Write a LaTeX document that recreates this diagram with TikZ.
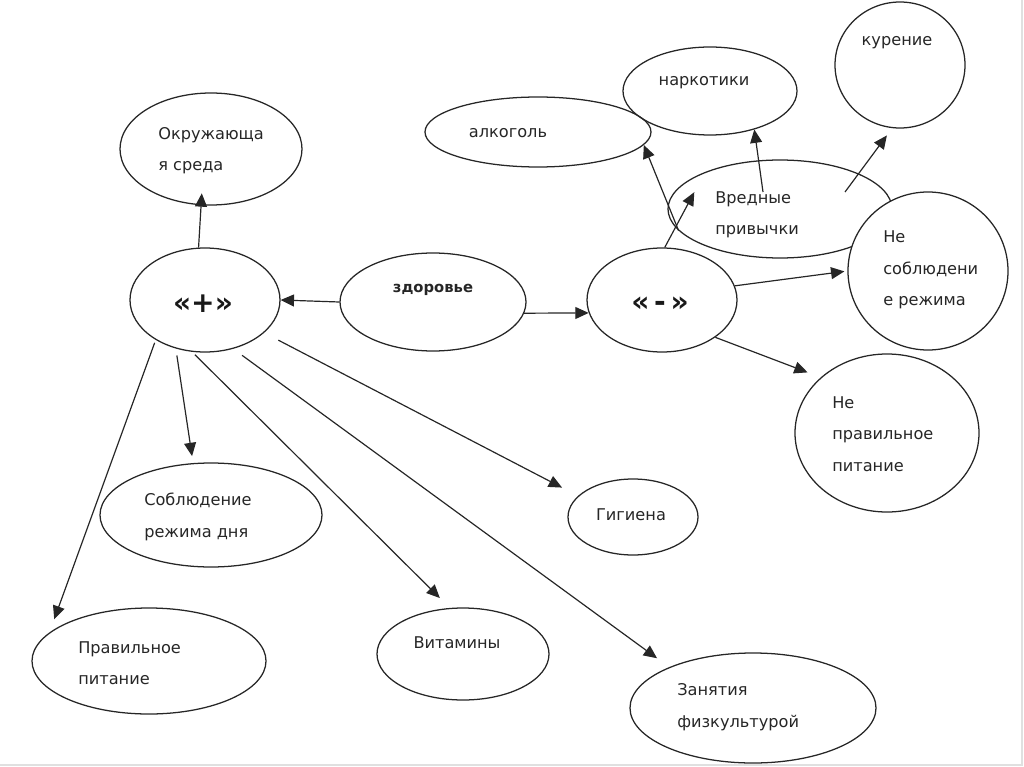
\documentclass[tikz,border=0pt]{standalone}
\usepackage{fontspec}
\setmainfont{DejaVu Sans}
\usetikzlibrary{shapes.geometric,arrows.meta}
\newcommand\pxu{0.025cm}
\begin{document}
\begin{tikzpicture}[x=0.025cm,y=-0.025cm,
  ell/.style 2 args={ellipse, draw=black!85, line width=0.9pt, inner sep=0pt, minimum width={2*#1*\pxu}, minimum height={2*#2*\pxu}},
  lbl/.style={font=\fontsize{11.5}{22.3}\selectfont, align=left, inner sep=0pt, text=black!85},
  big/.style={font=\bfseries\fontsize{20}{24}\selectfont, inner sep=0pt, text=black!90},
  arr/.style={draw=black!85, line width=0.85pt, -{Triangle[length=9.5pt,width=8.5pt]}}
]
\useasboundingbox (0,0) rectangle (1024,767);
\draw[black!12, line width=1.5pt] (1022,0) -- (1022,765) -- (0,765);

% ellipses
\node[ell={91}{56}] (okr) at (211,149) {};
\node[ell={75}{52}] (plus) at (205,300) {};
\node[ell={93}{49}] (zdr) at (433,302) {};
\node[ell={75}{52}] (minus) at (662,300) {};
\node[ell={113}{35}] (alk) at (538,132) {};
\node[ell={87}{44}] (nark) at (710,91) {};
\node[ell={65}{63}] (kur) at (900,65) {};
\node[ell={112}{49}] (vred) at (780,209) {};
\node[ell={80}{79}, fill=white] (nes) at (928,271) {};
\node[ell={92}{79}] (nep) at (887,433) {};
\node[ell={65}{38}] (gig) at (633,517) {};
\node[ell={123}{55}] (zan) at (753,708) {};
\node[ell={86}{46}] (vit) at (463,654) {};
\node[ell={117}{53}] (prav) at (149,661) {};
\node[ell={111}{52}] (sobl) at (211,515) {};

% texts
\node[lbl, anchor=west] (okr-t) at (158,151) {Окружающа\\я среда};
\node[big] (plus-t) at (203,304) {«+»};
\node[lbl, font=\bfseries\fontsize{10.5}{13}\selectfont] (zdr-t) at (433,290) {здоровье};
\node[big] (minus-t) at (660,304) {«\,-\,»};
\node[lbl] (alk-t) at (508,133) {алкоголь};
\node[lbl] (nark-t) at (704,83) {наркотики};
\node[lbl] (kur-t) at (897,43) {курение};
\node[lbl, anchor=west] (vred-t) at (715,215) {Вредные\\привычки};
\node[lbl, anchor=west] (nes-t) at (883,270) {Не\\соблюдени\\е режима};
\node[lbl, anchor=west] (nep-t) at (832,434) {Не\\правильное\\питание};
\node[lbl] (gig-t) at (631,515) {Гигиена};
\node[lbl, anchor=west] (zan-t) at (677,707) {Занятия\\физкультурой};
\node[lbl] (vit-t) at (457,643) {Витамины};
\node[lbl, anchor=west] (prav-t) at (78,663) {Правильное\\питание};
\node[lbl, anchor=west] (sobl-t) at (144,517) {Соблюдение\\режима  дня};

% connectors
\draw[arr] (zdr.west) -- (plus.east);
\draw[arr] (zdr.-7) -- (minus.190);
\draw[arr, shorten >=-12*\pxu] (plus.97) -- (okr.260);
\draw[arr, shorten <=7*\pxu, shorten >=7*\pxu] (plus.-121) -- (sobl.109);
\draw[arr, shorten <=3*\pxu, shorten >=14*\pxu] (plus.-141) -- (prav.164);
\draw[arr, shorten <=4*\pxu, shorten >=14*\pxu] (plus.-104) -- (vit.106);
\draw[arr, shorten <=11*\pxu, shorten >=15*\pxu] (plus.-60) -- (zan.154);
\draw[arr, shorten <=16*\pxu, shorten >=18*\pxu] (plus.-29) -- (gig.159);
\draw[arr, shorten >=-40*\pxu] (minus.87) -- (vred.190);
\draw[arr] (vred.192) -- (alk.-7);
\coordinate (vrA) at (763,192);
\coordinate (vrB) at (845,192);
\draw[arr] (vrA) -- (nark.-41);
\draw[arr, shorten >=9*\pxu] (vrB) -- (kur.-97);
\draw[arr, shorten >=3*\pxu] (minus.11) -- (nes.180);
\draw[arr, shorten >=14*\pxu] (minus.-35) -- (nep.140);
\end{tikzpicture}
\end{document}
